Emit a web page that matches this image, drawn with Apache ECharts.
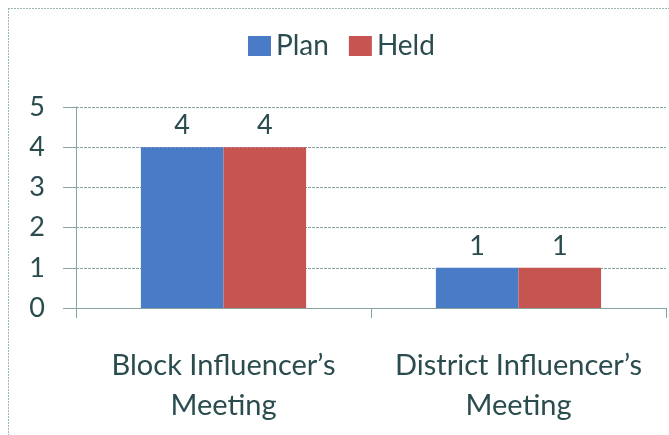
<!DOCTYPE html>
<html>
<head>
<meta charset="utf-8">
<script src="https://cdn.jsdelivr.net/npm/echarts@6/dist/echarts.min.js"></script>
<style>
html,body{margin:0;padding:0;background:#fff;}
#c{width:669px;height:435px;}
</style>
</head>
<body>
<div id="c"></div>
<script>
var categories = ["Block Influencer\u2019s\nMeeting", "District Influencer\u2019s\nMeeting"];
var planValues = [4, 1];
var heldValues = [4, 1];
var yTicks = [0, 1, 2, 3, 4, 5];

var textColor = '#2b4c4e';
var gridColor = '#86a3a3';
var fontFam = 'Lato, "Open Sans", sans-serif';

var chart = echarts.init(document.getElementById('c'), null, {renderer: 'canvas'});
chart.setOption({
  animation: false,
  backgroundColor: '#fff',
  graphic: [
    {type: 'line', shape: {x1: 8.5, y1: 8, x2: 8.5, y2: 435}, style: {stroke: '#9ab3b3', lineWidth: 1, lineDash: [2, 1]}},
    {type: 'line', shape: {x1: 8, y1: 8.5, x2: 669, y2: 8.5}, style: {stroke: '#9ab3b3', lineWidth: 1, lineDash: [2, 1]}}
  ],
  legend: {
    top: 27,
    left: 243,
    itemWidth: 23,
    itemHeight: 20,
    itemGap: 20,
    icon: 'rect',
    textStyle: {fontSize: 28, color: textColor, fontFamily: fontFam},
    data: ['Plan', 'Held']
  },
  grid: {left: 76, right: 3, top: 107, bottom: 127, containLabel: false},
  xAxis: {
    type: 'category',
    data: categories,
    axisLine: {show: true, lineStyle: {color: gridColor, width: 1}},
    axisTick: {show: true, length: 10, lineStyle: {color: gridColor}},
    axisLabel: {fontSize: 29, color: textColor, fontFamily: fontFam, margin: 38, lineHeight: 40, interval: 0}
  },
  yAxis: {
    type: 'value',
    min: 0,
    max: 5,
    interval: 1,
    axisLine: {show: true, lineStyle: {color: gridColor, width: 1}},
    axisTick: {show: true, length: 13, lineStyle: {color: gridColor}},
    splitLine: {show: true, lineStyle: {color: gridColor, width: 1, type: [3, 1]}},
    axisLabel: {fontSize: 27, color: textColor, fontFamily: fontFam, margin: 31,
      formatter: function (v) { return yTicks.indexOf(v) >= 0 ? String(v) : ''; }}
  },
  series: [
    {
      name: 'Plan', type: 'bar', data: planValues,
      barGap: '0%', barCategoryGap: '44%',
      itemStyle: {color: '#4a7bc6'},
      label: {show: true, position: 'top', distance: 8, fontSize: 27, color: textColor, fontFamily: fontFam}
    },
    {
      name: 'Held', type: 'bar', data: heldValues,
      barGap: '0%', barCategoryGap: '44%',
      itemStyle: {color: '#c65551'},
      label: {show: true, position: 'top', distance: 8, fontSize: 27, color: textColor, fontFamily: fontFam}
    }
  ]
});
</script>
</body>
</html>
